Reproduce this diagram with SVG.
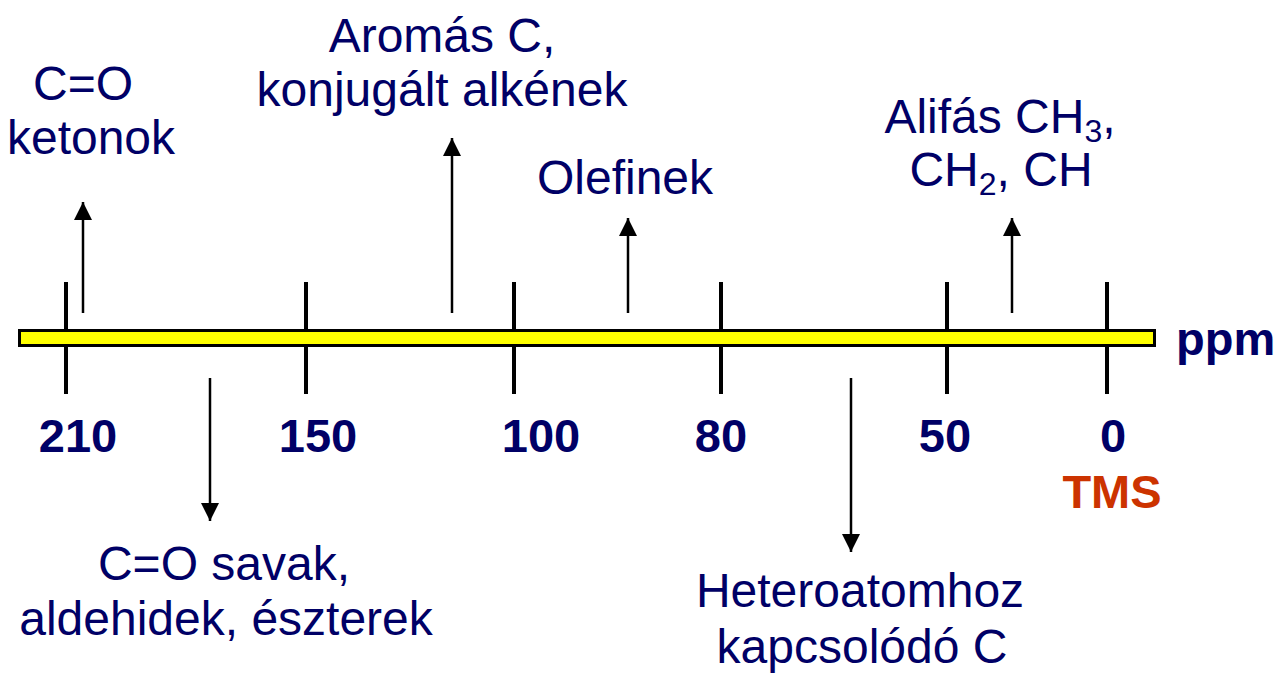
<svg xmlns="http://www.w3.org/2000/svg" width="1278" height="675" viewBox="0 0 1278 675">
<style>
.lbl{font-family:"Liberation Sans",Arial,sans-serif;font-size:48px;fill:#000066;text-anchor:middle}
.num{font-family:"Liberation Sans",Arial,sans-serif;font-size:47px;font-weight:bold;fill:#000066;text-anchor:middle}
.tms{font-family:"Liberation Sans",Arial,sans-serif;font-size:47px;font-weight:bold;fill:#cc3300;text-anchor:middle}
.tick{stroke:#000;stroke-width:4}
.arr{stroke:#000;stroke-width:2.5;fill:none;marker-end:url(#ah)}
.sub{font-size:32px}
</style>
<defs>
<marker id="ah" markerUnits="userSpaceOnUse" markerWidth="18" markerHeight="18" viewBox="0 0 16 16" refX="16" refY="8" orient="auto">
<path d="M0,0 L16,8 L0,16 Z" fill="#000"/>
</marker>
</defs>
<rect width="1278" height="675" fill="#fff"/>
<g id="ticks">
<line class="tick" x1="66" y1="282" x2="66" y2="394"/>
<line class="tick" x1="306" y1="282" x2="306" y2="394"/>
<line class="tick" x1="514" y1="282" x2="514" y2="394"/>
<line class="tick" x1="721" y1="282" x2="721" y2="394"/>
<line class="tick" x1="947" y1="282" x2="947" y2="394"/>
<line class="tick" x1="1107" y1="282" x2="1107" y2="394"/>
</g>
<g id="axis">
<rect x="19.5" y="330.5" width="1135" height="15" fill="#ffff00" stroke="#000" stroke-width="3"/>
<text class="num" x="1176" y="355" style="text-anchor:start">ppm</text>
</g>
<g id="connectors">
<line class="arr" x1="83" y1="313" x2="83" y2="202"/>
<line class="arr" x1="210" y1="378" x2="210" y2="521"/>
<line class="arr" x1="452" y1="313" x2="452" y2="138"/>
<line class="arr" x1="628" y1="313" x2="628" y2="218"/>
<line class="arr" x1="851" y1="378" x2="851" y2="552"/>
<line class="arr" x1="1012" y1="313" x2="1012" y2="218"/>
</g>
<g id="scale">
<text class="num" x="78" y="452">210</text>
<text class="num" x="318" y="452">150</text>
<text class="num" x="541" y="452">100</text>
<text class="num" x="721" y="452">80</text>
<text class="num" x="945" y="452">50</text>
<text class="num" x="1113" y="452">0</text>
<text class="tms" x="1112" y="508">TMS</text>
</g>
<g id="ketonok">
<text class="lbl" x="83" y="100">C=O</text>
<text class="lbl" x="91" y="154">ketonok</text>
</g>
<g id="savak">
<text class="lbl" x="224" y="580">C=O savak,</text>
<text class="lbl" x="226" y="635">aldehidek, észterek</text>
</g>
<g id="aromas">
<text class="lbl" x="442" y="52">Aromás C,</text>
<text class="lbl" x="442" y="106">konjugált alkének</text>
</g>
<g id="olefinek">
<text class="lbl" x="625" y="194">Olefinek</text>
</g>
<g id="hetero">
<text class="lbl" x="860" y="607">Heteroatomhoz</text>
<text class="lbl" x="862" y="663">kapcsolódó C</text>
</g>
<g id="alifas">
<text class="lbl" x="1000" y="133">Alifás CH<tspan class="sub" dy="9">3</tspan><tspan dy="-9">,</tspan></text>
<text class="lbl" x="1001" y="186">CH<tspan class="sub" dy="9">2</tspan><tspan dy="-9">, CH</tspan></text>
</g>
</svg>
